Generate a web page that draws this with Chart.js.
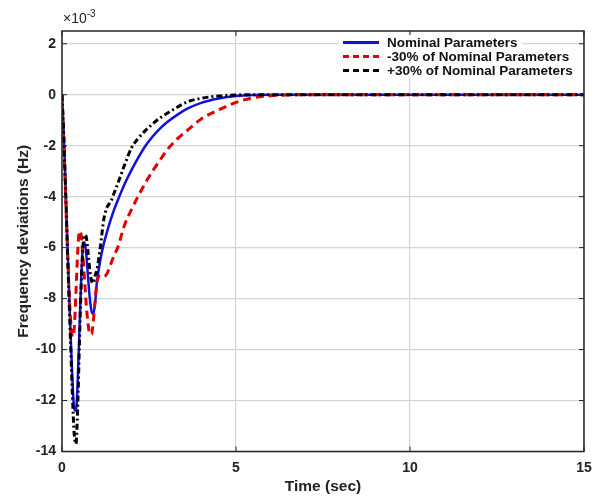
<!DOCTYPE html>
<html lang="en">
<head>
    <meta charset="UTF-8">
    <title>Frequency Deviations</title>
    <script src="https://cdn.jsdelivr.net/npm/chart.js"></script>
    <style>
        * {
            margin: 0;
            padding: 0;
            box-sizing: border-box;
        }
        body {
            background: white;
            font-family: 'Liberation Sans', Arial, sans-serif;
        }
        .wrap {
            position: relative;
            width: 607px;
            height: 496px;
        }
        .exp {
            position: absolute;
            left: 63px;
            top: 8px;
            font-size: 14px;
            color: #222;
        }
        .exp sup {
            font-size: 10px;
            vertical-align: 6px;
        }
        .legend {
            position: absolute;
            left: 338px;
            top: 35px;
            font-size: 13.5px;
            font-weight: bold;
            color: #111;
        }
        .legend .row {
            display: flex;
            align-items: center;
            height: 14px;
            background: white;
            width: max-content;
            padding-right: 4px;
        }
        .legend .sample {
            width: 36px;
            margin: 0 8px 0 5px;
            height: 0;
        }
    </style>
</head>
<body>
<div class="wrap">
    <canvas id="freqChart"></canvas>
    <div class="exp">&times;10<sup>-3</sup></div>
    <div class="legend">
        <div class="row"><span class="sample" style="border-top: 3px solid #1010e0;"></span>Nominal Parameters</div>
        <div class="row"><span class="sample" style="border-top: 3px dashed #e00000;"></span>-30% of Nominal Parameters</div>
        <div class="row"><span class="sample" style="border-top: 3px dashed #000;"></span>+30% of Nominal Parameters</div>
    </div>
</div>

<script>
    // time samples (sec)
    var timeSec = [0, 0.05, 0.1, 0.15, 0.2, 0.25, 0.3, 0.35, 0.4, 0.45, 0.5, 0.55, 0.6, 0.65, 0.7, 0.75,
        0.8, 0.85, 0.9, 0.95, 1.0, 1.1, 1.2, 1.3, 1.4, 1.5, 1.6, 1.8, 2.0, 2.2, 2.4, 2.6, 2.8, 3.0,
        3.3, 3.6, 4.0, 4.5, 5.0, 5.5, 6.0, 6.5, 7.0, 8, 10, 12, 15];

    // frequency deviation in units of 1e-3 Hz
    var nominal = [0, -1.5, -3.5, -5.6, -7.6, -9.5, -11.2, -12.3, -12.4, -11.3, -9.3, -7.3, -6.0, -5.8, -6.3, -7.2,
        -8.0, -8.5, -8.6, -8.2, -7.4, -6.5, -5.85, -5.35, -4.9, -4.5, -4.15, -3.5, -2.95, -2.45, -2.0, -1.65, -1.35, -1.1,
        -0.8, -0.55, -0.32, -0.15, -0.05, -0.01, 0, 0, 0, 0, 0, 0, 0];

    var minus30 = [0, -1.8, -3.8, -5.8, -7.6, -8.9, -9.5, -9.2, -7.8, -6.2, -5.35, -5.5, -6.3, -7.3, -8.3, -9.0,
        -9.4, -9.4, -8.9, -8.1, -7.4, -7.1, -7.15, -7.0, -6.65, -6.3, -6.0, -5.1, -4.5, -3.95, -3.45, -3.0, -2.6, -2.2,
        -1.75, -1.4, -0.95, -0.6, -0.3, -0.12, -0.04, -0.01, 0, 0, 0, 0, 0];

    var plus30 = [0, -1.6, -3.6, -5.8, -7.9, -9.9, -11.8, -13.3, -13.7, -12.3, -9.8, -7.5, -6.0, -5.5, -5.6, -6.2,
        -6.9, -7.3, -7.4, -7.1, -6.9, -6.0, -4.9, -4.4, -4.2, -3.85, -3.5, -2.75, -2.08, -1.7, -1.4, -1.15, -0.93, -0.75,
        -0.5, -0.28, -0.14, -0.05, -0.01, 0, 0, 0, 0, 0, 0, 0, 0];

    var xTicks = [0, 5, 10, 15];
    var yTicks = [2, 0, -2, -4, -6, -8, -10, -12, -14];

    function toPoints(ys) {
        return timeSec.map(function (t, i) { return { x: t, y: ys[i] }; });
    }

    // box around the plot + inward tick marks, matlab style
    var boxPlugin = {
        id: 'box',
        afterDraw: function (chart) {
            var a = chart.chartArea, c = chart.ctx;
            var xs = chart.scales.x, ys = chart.scales.y;
            c.save();
            c.strokeStyle = '#262626';
            c.lineWidth = 1.5;
            c.strokeRect(a.left, a.top, a.right - a.left, a.bottom - a.top);
            c.lineWidth = 1;
            xTicks.forEach(function (v) {
                var px = xs.getPixelForValue(v);
                c.beginPath();
                c.moveTo(px, a.bottom); c.lineTo(px, a.bottom - 5);
                c.moveTo(px, a.top); c.lineTo(px, a.top + 5);
                c.stroke();
            });
            yTicks.forEach(function (v) {
                var py = ys.getPixelForValue(v);
                c.beginPath();
                c.moveTo(a.left, py); c.lineTo(a.left + 5, py);
                c.moveTo(a.right, py); c.lineTo(a.right - 5, py);
                c.stroke();
            });
            c.restore();
        }
    };

    var ctx = document.getElementById("freqChart").getContext("2d");
    var chart = new Chart(ctx, {
        type: "line",
        data: {
            datasets: [{
                label: "Nominal Parameters",
                data: toPoints(nominal),
                borderColor: "#1010e0",
                borderWidth: 2.5,
                order: 3
            }, {
                label: "-30% of Nominal Parameters",
                data: toPoints(minus30),
                borderColor: "#e00000",
                borderWidth: 3,
                borderDash: [8, 5],
                order: 2
            }, {
                label: "+30% of Nominal Parameters",
                data: toPoints(plus30),
                borderColor: "#000000",
                borderWidth: 3,
                borderDash: [6, 3, 2, 3],
                order: 1
            }]
        },
        options: {
            responsive: true,
            maintainAspectRatio: false,
            animation: false,
            elements: {
                point: { radius: 0 },
                line: { cubicInterpolationMode: 'monotone', borderCapStyle: 'butt' }
            },
            layout: { padding: { top: 31, right: 23, left: 0, bottom: 0 } },
            plugins: {
                legend: { display: false },
                tooltip: { enabled: false }
            },
            scales: {
                x: {
                    type: 'linear',
                    min: 0,
                    max: 15,
                    afterBuildTicks: function (axis) {
                        axis.ticks = xTicks.map(function (v) { return { value: v }; });
                    },
                    afterFit: function (axis) { axis.height = 44.5; },
                    grid: { color: '#d4d4d4', lineWidth: 1.2, drawTicks: false },
                    border: { display: false },
                    ticks: {
                        padding: 8,
                        color: '#222',
                        font: { size: 14, weight: 'bold', family: 'Liberation Sans' }
                    },
                    title: {
                        display: true,
                        text: 'Time (sec)',
                        color: '#222',
                        padding: { top: 1, bottom: 0 },
                        font: { size: 15.5, weight: 'bold', family: 'Liberation Sans' }
                    }
                },
                y: {
                    min: -14,
                    max: 2.5,
                    afterBuildTicks: function (axis) {
                        axis.ticks = yTicks.map(function (v) { return { value: v }; });
                    },
                    afterFit: function (axis) { axis.width = 62; },
                    grid: { color: '#d4d4d4', lineWidth: 1.2, drawTicks: false },
                    border: { display: false },
                    ticks: {
                        padding: 6,
                        color: '#222',
                        font: { size: 14, weight: 'bold', family: 'Liberation Sans' }
                    },
                    title: {
                        display: true,
                        text: 'Frequency deviations (Hz)',
                        color: '#222',
                        padding: { top: 14, bottom: 0 },
                        font: { size: 15.5, weight: 'bold', family: 'Liberation Sans' }
                    }
                }
            }
        },
        plugins: [boxPlugin]
    });
</script>
</body>
</html>
